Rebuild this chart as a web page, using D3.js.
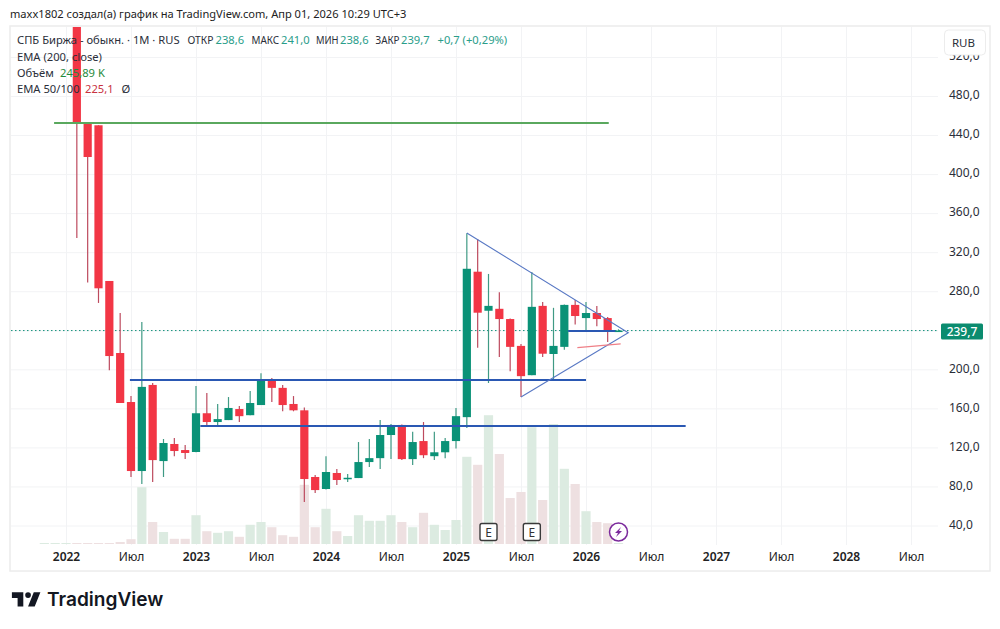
<!DOCTYPE html>
<html><head><meta charset="utf-8">
<script src="https://cdn.jsdelivr.net/npm/d3@7"></script>
<style>
html,body{margin:0;padding:0;background:#fff}
svg{display:block}
text{font-family:"Noto Sans",sans-serif}
</style></head><body><svg id="c" width="1000" height="629"></svg>
<script>
// month index 0 = Jan 2022
const firstCandle = 1;
const opens  = [561,453,450,290.5,216.7,166.5,95.8,184,106,123.5,117.3,115.3,155,146,148,159.3,153,163.4,189,181,164.5,158,89.7,77.4,93.8,88.1,88.6,105,109,132.7,143,108,126.5,111,115,126.5,151,300,260,262,251.5,224,194,265,215.7,223,266,252.5,257.7,252.5,238.6];
const highs  = [600,453,450,290.5,257.7,172.6,248.5,186,128.6,129.6,122.5,183,175.7,164.5,171.6,162.4,177.8,196,191,184,172.6,161,91.7,111,97.9,92.7,125.5,128.6,148,144,143.5,136,146,136,129.6,160.4,339.5,333.5,297.7,279,252,226,299.7,269,263,266.5,271,269,264.8,253.6,241];
const lows   = [334.5,289,268,199,165.5,89.7,82.5,84.5,89.7,111,108,115,142,142,148,146,153,163.4,166.5,157,157,64,73.3,77,81.5,84.5,88.6,100,98,108,107,102,109,107,109,119,140,222,186,212.6,198,171.6,194,212.6,190,220,246,239,244,228,238.6];
const closes = [452,417.5,283,213.6,165.5,95.8,182,107,124.5,116.3,114.3,155,146,149,160.4,152,165.5,189,181,163.4,158,87.6,76.3,94.8,86.6,88.9,105,109,132.7,143,108,125.5,112,115,126.5,152,303,258,265,251.5,223,193,264,216,224,266,254.6,257.7,251.5,239.3,239.7];
const firstVolume = -2;
const volumes = [0.25,0.25,0.25,0.25,0.25,0.25,0.25,0.5,1.2,14.2,5.5,3,1.3,1.3,7.2,3.2,2.8,3.2,1.8,4.8,5.5,4.2,2.2,1.8,14.8,4.2,8.8,3.2,2,7.2,5.8,5.8,7.2,5.5,4.2,7.8,4.8,3.5,6,21.8,19.8,32.2,22.5,11.5,13,29.2,11,30,18.8,15,8.2,5.5,5.2,0.25];
const gridPrices = [40,80,120,160,200,240,280,320,360,400,440,480,520];
const priceLabels = [40,80,120,160,200,280,320,360,400,440,480,520];
const timeTicks = [0,6,12,18,24,30,36,42,48,54,60,66,72,78];
const timeLabels = ["2022","Июл","2023","Июл","2024","Июл","2025","Июл","2026","Июл","2027","Июл","2028","Июл"];
const lastPrice = 239.7;
const levelGreen = [[-1.1,452.4],[50.1,452.4]];
const levelBlue1 = [[5.9,189],[48,189]];
const levelBlue2 = [[12.4,142],[57.2,142]];
const levelBlue3 = [[46.35,239.3],[50.7,239.3]];
const triangle = [[37,339.7],[51.9,237.5],[42,171.7]];
const redTrend = [[47.2,222.2],[51.2,226]];
const earnings = [39,43];
const lightning = [51];

const priceScale = d3.scaleLinear().domain([40,480]).range([525.5,96]);
const timeScale = d3.scaleLinear().domain([0,78]).range([66,911]);
const volumeScale = d3.scaleLinear().domain([0,40]).range([544,384]);
const F = v => d3.format(".1f")(v).replace(".",",");

const svg = d3.select("#c");
const defs = svg.append("defs");
defs.append("clipPath").attr("id","plot").append("rect").attr("x",11).attr("y",27).attr("width",927).attr("height",517);

svg.append("text").attr("x",10).attr("y",18).attr("font-size",11.1).attr("fill","#222")
  .text("maxx1802 создал(а) график на TradingView.com, Апр 01, 2026 10:29 UTC+3");
svg.append("rect").attr("x",10).attr("y",26).attr("width",980).attr("height",545).attr("fill","#fff").attr("stroke","#ececec").attr("stroke-width",1.5);

// grid
const gy = svg.append("g").attr("transform","translate(938,0)")
  .call(d3.axisLeft(priceScale).tickValues(gridPrices).tickSize(927).tickFormat(""));
gy.select(".domain").remove();
gy.selectAll("line").attr("stroke","#f2f3f5");
const gx = svg.append("g").attr("transform","translate(0,545)")
  .call(d3.axisTop(timeScale).tickValues(timeTicks).tickSize(518).tickFormat(""));
gx.select(".domain").remove();
gx.selectAll("line").attr("stroke","#f2f3f5");

const plot = svg.append("g").attr("clip-path","url(#plot)");
const isUp = i => closes[i] >= opens[i];

// volumes
plot.selectAll("rect.vol").data(volumes).join("rect").attr("class","vol")
  .attr("x",(d,i)=>timeScale(i+firstVolume)-4.6)
  .attr("width",9.2)
  .attr("y",d=>volumeScale(d))
  .attr("height",d=>volumeScale(0)-volumeScale(d))
  .attr("fill",(d,i)=>{const k=i+firstVolume-firstCandle; return (k>=0&&k<closes.length&&!isUp(k))?"#eee0e1":"#dcebe1";});

// dotted last price
plot.append("line").attr("x1",11).attr("x2",938).attr("y1",priceScale(lastPrice)).attr("y2",priceScale(lastPrice))
  .attr("stroke","#12907a").attr("stroke-width",1).attr("stroke-dasharray","1.5 2.5");

const line = d3.line().x(d=>timeScale(d[0])).y(d=>priceScale(d[1]));
const draw = (parent,pts,col,w)=>parent.append("path").attr("d",line(pts)).attr("fill","none").attr("stroke",col).attr("stroke-width",w);

// candles
const cg = plot.append("g");
cg.selectAll("line").data(closes).join("line")
  .attr("x1",(d,i)=>timeScale(i+firstCandle)).attr("x2",(d,i)=>timeScale(i+firstCandle))
  .attr("y1",(d,i)=>priceScale(highs[i])).attr("y2",(d,i)=>priceScale(lows[i]))
  .attr("stroke",(d,i)=>isUp(i)?"#3f9a84":"#bd4a5e").attr("stroke-width",1.2);
cg.selectAll("rect").data(closes).join("rect")
  .attr("x",(d,i)=>timeScale(i+firstCandle)-4.1).attr("width",8.2)
  .attr("y",(d,i)=>priceScale(Math.max(opens[i],closes[i])))
  .attr("height",(d,i)=>Math.max(1.5,Math.abs(priceScale(opens[i])-priceScale(closes[i]))))
  .attr("fill",(d,i)=>isUp(i)?"#0a9277":"#f23645");

// drawings
draw(svg,levelGreen,"#5aa85e",2);
draw(svg,levelBlue1,"#2a58b3",2);
draw(svg,levelBlue2,"#2a58b3",2);
draw(svg,levelBlue3,"#2a58b3",2);
draw(svg,triangle,"#5878c4",1.1);
draw(svg,redTrend,"#ef7f86",1.2);

// earnings badges
earnings.forEach(i=>{
  const x=timeScale(i);
  svg.append("rect").attr("x",x-8.5).attr("y",523.5).attr("width",17).attr("height",17).attr("rx",2).attr("fill","#fff").attr("stroke","#3a3a3a").attr("stroke-width",1.4);
  svg.append("text").attr("x",x).attr("y",536.5).attr("text-anchor","middle").attr("font-size",12).attr("fill","#333").text("E");
});
// lightning
lightning.forEach(i=>{
  const x=timeScale(i);
  svg.append("circle").attr("cx",x).attr("cy",532).attr("r",9).attr("fill","#fff").attr("stroke","#7b2a9c").attr("stroke-width",1.5);
  svg.append("path").attr("transform",`translate(${x},532)`).attr("d","M2.5,-5 L-3.5,1 L-0.5,1 L-2.5,5 L3.5,-1 L0.5,-1 Z").attr("fill","#7b2a9c");
});

// axes
const ay = svg.append("g").attr("transform","translate(949,-1)")
  .call(d3.axisRight(priceScale).tickValues(priceLabels).tickSize(0).tickPadding(0).tickFormat(F));
ay.select(".domain").remove();
ay.selectAll("text").attr("font-size",12).attr("fill","#2a2e39").attr("font-family",'"Noto Sans",sans-serif');

const ax = svg.append("g").attr("transform","translate(0,552.5)")
  .call(d3.axisBottom(timeScale).tickValues(timeTicks).tickSize(0).tickPadding(0).tickFormat((d,i)=>timeLabels[i]));
ax.select(".domain").remove();
ax.selectAll("text").attr("font-size",12).attr("fill","#222").attr("font-family",'"Noto Sans",sans-serif')
  .attr("font-weight",(d,i)=>timeLabels[i]==="Июл"?400:600);

// RUB button
svg.append("rect").attr("x",944.5).attr("y",30).attr("width",41).attr("height",25).attr("rx",4).attr("fill","#fff").attr("stroke","#ececec");
svg.append("text").attr("x",963.5).attr("y",47).attr("text-anchor","middle").attr("font-size",11.5).attr("fill","#2a2e39").text("RUB");

// last price label
svg.append("rect").attr("x",941).attr("y",323.5).attr("width",42).attr("height",16).attr("rx",1.5).attr("fill","#0b8c6f");
svg.append("text").attr("x",962).attr("y",336).attr("text-anchor","middle").attr("font-size",12).attr("font-weight",500).attr("fill","#fff").text(F(lastPrice));

// legend
const lg = [
 [17,44,"СПБ Биржа - обыкн. · 1М · RUS","#2a2e39"],
 [187.5,44,"ОТКР","#2a2e39",26],[215.5,44,"238,6","#2a9d8a"],
 [251.5,44,"МАКС","#2a2e39",27.5],[281,44,"241,0","#2a9d8a"],
 [316,44,"МИН","#2a2e39",22.5],[340,44,"238,6","#2a9d8a"],
 [375.5,44,"ЗАКР","#2a2e39",24],[401,44,"239,7","#2a9d8a"],
 [437.5,44,"+0,7 (+0,29%)","#2a9d8a"],
 [17,61,"EMA (200, close)","#2a2e39"],
 [17,77,"Объём","#2a2e39"],[60,77,"245,89 K","#1f8a3c"],
 [17,93,"EMA 50/100","#2a2e39"],[85,93,"225,1","#c8323f"],[121.5,93,"Ø","#2a2e39"]
];
lg.forEach(d=>{
  const t=svg.append("text").attr("x",d[0]).attr("y",d[1]).attr("font-size",11.2).attr("fill",d[3]).text(d[2]);
  if(d[4]) t.attr("textLength",d[4]).attr("lengthAdjust","spacingAndGlyphs");
});

// logo
svg.append("path").attr("transform","translate(10,586.5) scale(0.95)")
 .attr("d","M14 6H2v6h6v9h6V6Zm12 15h-7l6-15h7l-6 15Zm-7-9a3 3 0 1 0 0-6 3 3 0 0 0 0 6Z").attr("fill","#131722");
svg.append("text").attr("x",47).attr("y",606).attr("font-size",19.1).attr("font-weight",600).attr("fill","#131722").style("font-family","Inter, sans-serif").text("TradingView");
</script></body></html>
